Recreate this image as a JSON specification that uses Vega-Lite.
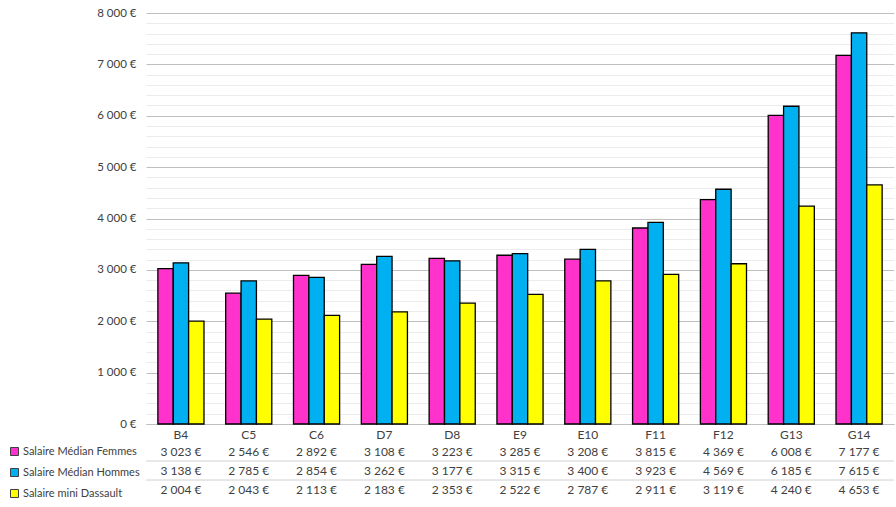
{
  "$schema": "https://vega.github.io/schema/vega-lite/v6.json",
  "background": "white",
  "padding": {"left": 5, "top": 7, "right": 2, "bottom": 0},
  "config": {
    "locale": {"number": {"decimal": ",", "thousands": "\u00a0", "grouping": [3], "currency": ["", "\u00a0€"]}},
    "font": "Lato",
    "view": {"stroke": null}
  },
  "datasets": {
    "salaires": [
      {"poste": "B4", "serie": "Salaire Médian Femmes", "salaire": 3023},
      {"poste": "B4", "serie": "Salaire Médian Hommes", "salaire": 3138},
      {"poste": "B4", "serie": "Salaire mini Dassault", "salaire": 2004},
      {"poste": "C5", "serie": "Salaire Médian Femmes", "salaire": 2546},
      {"poste": "C5", "serie": "Salaire Médian Hommes", "salaire": 2785},
      {"poste": "C5", "serie": "Salaire mini Dassault", "salaire": 2043},
      {"poste": "C6", "serie": "Salaire Médian Femmes", "salaire": 2892},
      {"poste": "C6", "serie": "Salaire Médian Hommes", "salaire": 2854},
      {"poste": "C6", "serie": "Salaire mini Dassault", "salaire": 2113},
      {"poste": "D7", "serie": "Salaire Médian Femmes", "salaire": 3108},
      {"poste": "D7", "serie": "Salaire Médian Hommes", "salaire": 3262},
      {"poste": "D7", "serie": "Salaire mini Dassault", "salaire": 2183},
      {"poste": "D8", "serie": "Salaire Médian Femmes", "salaire": 3223},
      {"poste": "D8", "serie": "Salaire Médian Hommes", "salaire": 3177},
      {"poste": "D8", "serie": "Salaire mini Dassault", "salaire": 2353},
      {"poste": "E9", "serie": "Salaire Médian Femmes", "salaire": 3285},
      {"poste": "E9", "serie": "Salaire Médian Hommes", "salaire": 3315},
      {"poste": "E9", "serie": "Salaire mini Dassault", "salaire": 2522},
      {"poste": "E10", "serie": "Salaire Médian Femmes", "salaire": 3208},
      {"poste": "E10", "serie": "Salaire Médian Hommes", "salaire": 3400},
      {"poste": "E10", "serie": "Salaire mini Dassault", "salaire": 2787},
      {"poste": "F11", "serie": "Salaire Médian Femmes", "salaire": 3815},
      {"poste": "F11", "serie": "Salaire Médian Hommes", "salaire": 3923},
      {"poste": "F11", "serie": "Salaire mini Dassault", "salaire": 2911},
      {"poste": "F12", "serie": "Salaire Médian Femmes", "salaire": 4369},
      {"poste": "F12", "serie": "Salaire Médian Hommes", "salaire": 4569},
      {"poste": "F12", "serie": "Salaire mini Dassault", "salaire": 3119},
      {"poste": "G13", "serie": "Salaire Médian Femmes", "salaire": 6008},
      {"poste": "G13", "serie": "Salaire Médian Hommes", "salaire": 6185},
      {"poste": "G13", "serie": "Salaire mini Dassault", "salaire": 4240},
      {"poste": "G14", "serie": "Salaire Médian Femmes", "salaire": 7177},
      {"poste": "G14", "serie": "Salaire Médian Hommes", "salaire": 7615},
      {"poste": "G14", "serie": "Salaire mini Dassault", "salaire": 4653}
    ],
    "separateurs": [
      {"serie": "Salaire Médian Hommes"},
      {"serie": "Salaire mini Dassault"}
    ]
  },
  "bounds": "flush",
  "spacing": 18,
  "resolve": {"scale": {"x": "shared", "color": "independent"}, "legend": {"color": "independent"}},
  "vconcat": [
    {
      "width": 748,
      "height": 411,
      "data": {"name": "salaires"},
      "mark": {"type": "bar", "stroke": "black", "strokeWidth": 1.3},
      "encoding": {
        "x": {
          "field": "poste", "type": "nominal", "sort": null,
          "scale": {"paddingInner": 0.32, "paddingOuter": 0.175},
          "axis": {"title": null, "labelAngle": 0, "ticks": false, "domainColor": "#bfbfbf", "labelPadding": 5, "labelFontSize": 12, "labelColor": "#404040", "labelFont": "Lato"}
        },
        "xOffset": {"field": "serie", "type": "nominal", "sort": null},
        "y": {
          "field": "salaire", "type": "quantitative",
          "scale": {"domain": [0, 8000], "nice": false},
          "axis": {
            "title": null,
            "values": [0,200,400,600,800,1000,1200,1400,1600,1800,2000,2200,2400,2600,2800,3000,3200,3400,3600,3800,4000,4200,4400,4600,4800,5000,5200,5400,5600,5800,6000,6200,6400,6600,6800,7000,7200,7400,7600,7800,8000],
            "format": "$,.0f",
            "labelExpr": "datum.value % 1000 === 0 ? datum.label : ''",
            "gridColor": {"condition": {"test": "datum.value % 1000 === 0", "value": "#bfbfbf"}, "value": "#ececec"},
            "domain": false, "ticks": false, "labelPadding": 10,
            "labelFontSize": 11.5, "labelColor": "#404040", "labelFont": "Lato"
          }
        },
        "color": {
          "field": "serie", "type": "nominal", "sort": null,
          "scale": {"domain": ["Salaire Médian Femmes", "Salaire Médian Hommes", "Salaire mini Dassault"], "range": ["#FF33CC", "#00B0F0", "#FFFF00"]},
          "legend": null
        }
      }
    },
    {
      "width": 748,
      "height": 57,
      "layer": [
        {
          "data": {"name": "separateurs"},
          "mark": {"type": "rule", "color": "#d0d0d0", "strokeWidth": 1},
          "encoding": {
            "y": {"field": "serie", "type": "nominal", "bandPosition": 0, "sort": null,
                  "scale": {"domain": ["Salaire Médian Femmes", "Salaire Médian Hommes", "Salaire mini Dassault"], "paddingInner": 0, "paddingOuter": 0},
                  "axis": null}
          }
        },
        {
          "data": {"name": "salaires"},
          "mark": {"type": "point", "shape": "square", "filled": true, "opacity": 0},
          "encoding": {
            "x": {"field": "poste", "type": "nominal", "sort": null, "axis": null},
            "y": {"field": "serie", "type": "nominal", "sort": null, "axis": null},
            "color": {
              "field": "serie", "type": "nominal", "sort": null,
              "scale": {"domain": ["Salaire Médian Femmes", "Salaire Médian Hommes", "Salaire mini Dassault"], "range": ["#FF33CC", "#00B0F0", "#FFFF00"]},
              "legend": {
                "title": null, "orient": "left", "offset": 2,
                "symbolType": "square", "symbolSize": 64, "symbolOpacity": 1,
                "symbolStrokeColor": "#404040", "symbolStrokeWidth": 1,
                "labelFontSize": 11, "labelColor": "#404040", "labelFont": "Lato",
                "rowPadding": 8, "padding": 4, "labelOffset": 3,
                "encode": {"symbols": {"update": {"stroke": {"value": "#404040"}, "strokeWidth": {"value": 1}, "opacity": {"value": 1}}}}
              }
            }
          }
        },
        {
          "data": {"name": "salaires"},
          "mark": {"type": "text", "fontSize": 12, "color": "#404040", "font": "Lato"},
          "encoding": {
            "x": {"field": "poste", "type": "nominal", "sort": null, "axis": null},
            "y": {"field": "serie", "type": "nominal", "sort": null, "axis": null},
            "text": {"field": "salaire", "type": "quantitative", "format": "$,.0f"}
          }
        }
      ]
    }
  ]
}
